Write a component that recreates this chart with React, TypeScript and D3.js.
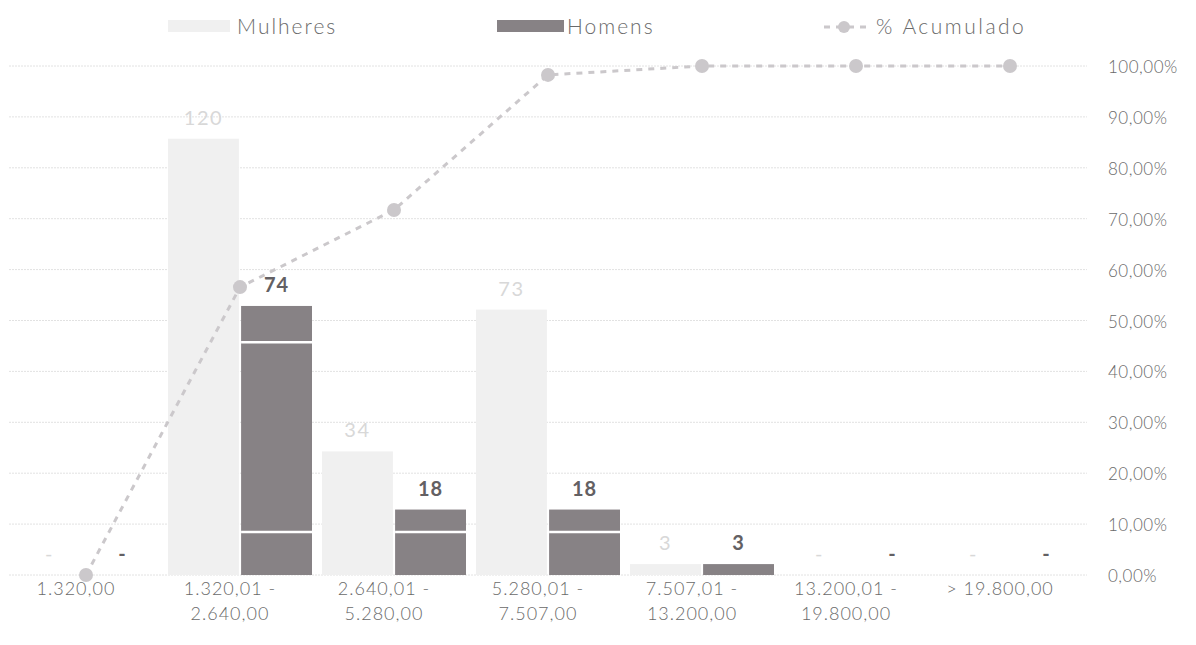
import React from "react";
import * as d3 from "d3";

const categories = [
  ["1.320,00"],
  ["1.320,01 -", "2.640,00"],
  ["2.640,01 -", "5.280,00"],
  ["5.280,01 -", "7.507,00"],
  ["7.507,01 -", "13.200,00"],
  ["13.200,01 -", "19.800,00"],
  ["> 19.800,00"],
];
const mulheres = [0, 120, 34, 73, 3, 0, 0];
const homens = [0, 74, 18, 18, 3, 0, 0];
const acumulado = [0, 0.5656, 0.7172, 0.9825, 1, 1, 1];
const pctTicks = [0, 0.1, 0.2, 0.3, 0.4, 0.5, 0.6, 0.7, 0.8, 0.9, 1];
const stripeValues = [11.8, 64];

const W = 1196;
const H = 645;
const FONT = "Lato, 'Open Sans', sans-serif";

export default function App() {
  const keys = categories.map((c, i) => String(i));
  const x = d3.scaleBand<string>().domain(keys).range([9, 1087]).padding(0);
  const inner = d3.scaleBand<string>().domain(["M", "H"]).range([-72, 72]).paddingInner(0.03);
  const yCount = d3.scaleLinear().domain([0, 140]).range([575, 66]);
  const yPct = d3.scaleLinear().domain([0, 1]).range([575, 66]);
  const cx = (i: number) => (x(String(i)) as number) + x.bandwidth() / 2;
  const fmtPct = (v: number) => (v * 100).toFixed(2).replace(".", ",") + "%";

  const line = d3
    .line<number>()
    .x((_, i) => cx(i))
    .y((d) => yPct(d));

  const mColor = "#f0f0f0";
  const hColor = "#878285";
  const lineColor = "#cbc8cb";
  const textColor = "#6a6a6a";
  const labelShift = -10;

  return (
    <div style={{ position: "fixed", left: 0, top: 0 }}>
      <svg width={W} height={H} style={{ display: "block", background: "#fff" }} fontFamily={FONT}>
        {pctTicks.map((t) => (
          <line
            key={"g" + t}
            x1={9}
            x2={1087}
            y1={yPct(t)}
            y2={yPct(t)}
            stroke="#e2e2e2"
            strokeWidth={1}
            strokeDasharray="2,1"
          />
        ))}
        {pctTicks.map((t) => (
          <text
            key={"t" + t}
            x={1108}
            y={yPct(t) + 7}
            fontSize={17}
            fontWeight={300}
            letterSpacing={0.5}
            fill={textColor}
          >
            {fmtPct(t)}
          </text>
        ))}
        {mulheres.map((v, i) => (
          <rect
            key={"m" + i}
            x={cx(i) + (inner("M") as number)}
            width={inner.bandwidth()}
            y={yCount(v)}
            height={yCount(0) - yCount(v)}
            fill={mColor}
          />
        ))}
        {homens.map((v, i) => (
          <rect
            key={"h" + i}
            x={cx(i) + (inner("H") as number)}
            width={inner.bandwidth()}
            y={yCount(v)}
            height={yCount(0) - yCount(v)}
            fill={hColor}
          />
        ))}
        {stripeValues.map((s, k) =>
          homens.map((v, i) =>
            v > s ? (
              <line
                key={"s" + k + i}
                x1={cx(i) + (inner("H") as number)}
                x2={cx(i) + (inner("H") as number) + inner.bandwidth()}
                y1={yCount(s)}
                y2={yCount(s)}
                stroke="#ffffff"
                strokeWidth={2.5}
              />
            ) : null
          )
        )}
        {mulheres.map((v, i) => (
          <text
            key={"ml" + i}
            x={cx(i) + (inner("M") as number) + inner.bandwidth() / 2}
            y={yCount(v) - 14}
            textAnchor="middle"
            fontSize={20}
            letterSpacing={1.5}
            fill="#d8d8d8"
          >
            {v === 0 ? "-" : v}
          </text>
        ))}
        {homens.map((v, i) => (
          <text
            key={"hl" + i}
            x={cx(i) + (inner("H") as number) + inner.bandwidth() / 2}
            y={yCount(v) - 14}
            textAnchor="middle"
            fontSize={20}
            fontWeight={700}
            letterSpacing={1}
            fill="#636063"
          >
            {v === 0 ? "-" : v}
          </text>
        ))}
        <path
          d={line(acumulado) || ""}
          fill="none"
          stroke={lineColor}
          strokeWidth={3}
          strokeDasharray="6,6"
        />
        {acumulado.map((v, i) => (
          <circle key={"c" + i} cx={cx(i)} cy={yPct(v)} r={7} fill={lineColor} />
        ))}
        {categories.map((c, i) => (
          <text
            key={"x" + i}
            x={cx(i) + labelShift}
            y={595}
            textAnchor="middle"
            fontSize={18}
            fontWeight={300}
            letterSpacing={1}
            fill={textColor}
          >
            {c.map((ln, j) => (
              <tspan key={j} x={cx(i) + labelShift} dy={j === 0 ? 0 : 25}>
                {ln}
              </tspan>
            ))}
          </text>
        ))}
        <rect x={168} y={20} width={62} height={12} fill={mColor} />
        <text x={237} y={34} fontSize={21} fontWeight={300} letterSpacing={2} fill={textColor}>
          Mulheres
        </text>
        <rect x={497} y={20} width={67} height={12} fill={hColor} />
        <text x={567} y={34} fontSize={21} fontWeight={300} letterSpacing={2} fill={textColor}>
          Homens
        </text>
        <line x1={822} x2={866} y1={27} y2={27} stroke={lineColor} strokeWidth={3} strokeDasharray="6,6" strokeDashoffset={-2} />
        <circle cx={844} cy={27} r={6} fill={lineColor} />
        <text x={876} y={34} fontSize={21} fontWeight={300} letterSpacing={2.5} fill={textColor}>
          % Acumulado
        </text>
      </svg>
    </div>
  );
}
